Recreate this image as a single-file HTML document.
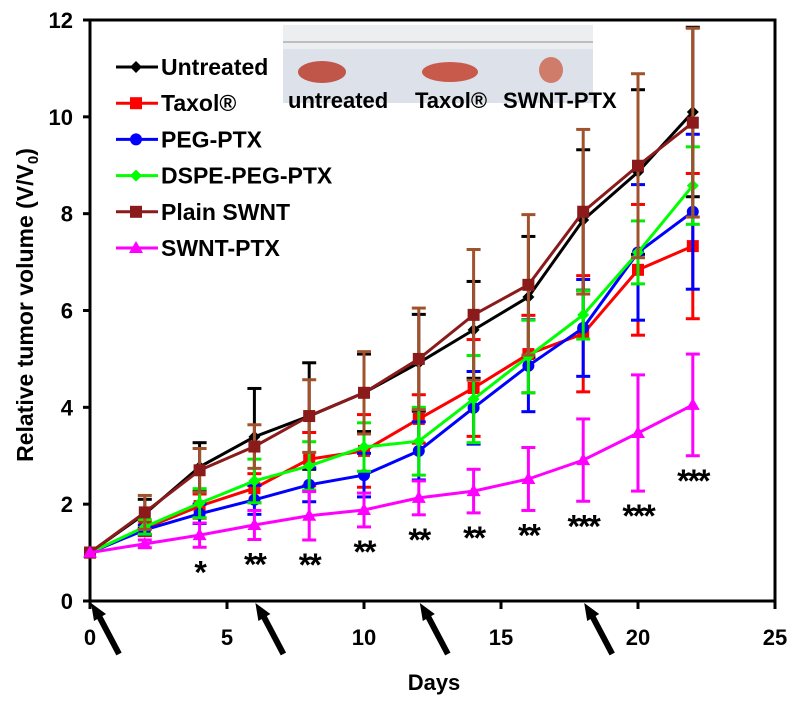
<!DOCTYPE html>
<html><head><meta charset="utf-8">
<style>
body{margin:0;background:#fff;width:800px;height:703px;overflow:hidden;font-family:"Liberation Sans",Arial,sans-serif}
svg text{font-family:"Liberation Sans",Arial,sans-serif;font-weight:bold}
</style></head>
<body>
<svg id="chart" width="800" height="703">
<g id="photo">
  <rect x="283" y="25" width="310" height="78" fill="#dde2ea"/>
  <rect x="283" y="25" width="310" height="24" fill="#eceef0"/>
  <g stroke="#8a8f99" stroke-width="1">
    <line x1="283" y1="42" x2="593" y2="42"/>
  </g>
  <ellipse cx="322" cy="72" rx="24" ry="11" fill="#c0554a"/>
  <ellipse cx="450" cy="72" rx="28" ry="10" fill="#c75a4b"/>
  <ellipse cx="551" cy="70" rx="12" ry="13" fill="#cf7c6a"/>
</g>
<g id="axes"></g>
<g id="series"></g>
<g id="legend"></g>
</svg>
<script>
const days=[0,2,4,6,8,10,12,14,16,18,20,22];
const untreated=[1,1.8,2.77,3.39,3.82,4.3,4.92,5.6,6.28,7.87,8.86,10.1];
const untreatedErr=[0,0.3,0.5,1.0,1.1,0.8,1.0,1.0,1.25,1.45,1.7,1.75];
const taxol=[1,1.5,1.96,2.33,2.93,3.1,3.76,4.4,5.1,5.52,6.84,7.33];
const taxolErr=[0,0.15,0.25,0.3,0.55,0.75,0.5,1.0,0.8,1.2,1.35,1.5];
const pegPtx=[1,1.47,1.8,2.09,2.4,2.6,3.1,3.99,4.86,5.64,7.2,8.04];
const pegPtxErr=[0,0.1,0.2,0.3,0.35,0.45,0.6,0.75,0.95,1.0,1.4,1.6];
const dspe=[1,1.53,2.02,2.48,2.79,3.18,3.3,4.17,5.05,5.91,7.2,8.58];
const dspeErr=[0,0.15,0.3,0.45,0.5,0.5,0.7,0.9,0.75,0.5,0.65,0.8];
const plain=[1,1.83,2.7,3.19,3.82,4.3,5.0,5.91,6.53,8.04,8.99,9.88];
const plainErr=[0,0.35,0.45,0.45,0.75,0.85,1.05,1.35,1.45,1.7,1.9,1.95];
const swnt=[1,1.18,1.36,1.57,1.76,1.88,2.13,2.27,2.52,2.91,3.47,4.05];
const swntErr=[0,0.08,0.25,0.3,0.5,0.35,0.35,0.45,0.65,0.85,1.2,1.05];
const stars=["","","*","**","**","**","**","**","**","***","***","***"];
const xTicks=[0,5,10,15,20,25];
const yTicks=[0,2,4,6,8,10,12];
const arrowDays=[0,6,12,18];

const NS="http://www.w3.org/2000/svg";
const X0=90,XW=685,Y0=601,YH=581;
const xs=d=>X0+d/25*XW, ys=v=>Y0-v/12*YH;
function mk(tag,attrs,parent){const e=document.createElementNS(NS,tag);for(const k in attrs)e.setAttribute(k,attrs[k]);parent.appendChild(e);return e;}
const axes=document.getElementById('axes'),ser=document.getElementById('series'),leg=document.getElementById('legend');

let f=mk('rect',{x:X0,y:ys(12),width:XW,height:YH,fill:'none',stroke:'#000','stroke-width':3},axes);


xTicks.forEach(t=>{
  let l=mk('line',{x1:xs(t),x2:xs(t),y1:Y0,y2:Y0+8,stroke:'#000','stroke-width':3},axes);
  
  
  let tx=mk('text',{x:xs(t),y:Y0+44,'text-anchor':'middle','font-size':22},axes);tx.textContent=t;
  
  
});
yTicks.forEach(t=>{
  let l=mk('line',{x1:X0-7,x2:X0,y1:ys(t),y2:ys(t),stroke:'#000','stroke-width':3},axes);
  
  
  let tx=mk('text',{x:73,y:ys(t)+8,'text-anchor':'end','font-size':22},axes);tx.textContent=t;
  
  
});
let xt=mk('text',{x:434,y:690,'text-anchor':'middle','font-size':22},axes);xt.textContent='Days';


let yt=mk('text',{x:0,y:0,'text-anchor':'middle','font-size':23,transform:'translate(33,305) rotate(-90)'},axes);
yt.innerHTML='Relative tumor volume (V/V<tspan font-size="15" dy="5">0</tspan><tspan dy="-5">)</tspan>';


arrowDays.forEach(d=>{
  const x=xs(d)+1;
  let g=mk('g',{},axes);
  
  
  mk('line',{x1:x+28,y1:654,x2:x+8,y2:616,stroke:'#000','stroke-width':6},g);
  mk('polygon',{points:`${x},${603} ${x+15},${614} ${x+3},${621}`,fill:'#000'},g);
});
[['untreated',288],['Taxol®',415],['SWNT-PTX',503]].forEach(([s,x])=>{
  let t=mk('text',{x:x,y:108,'font-size':22},axes);t.textContent=s;
  
  
});

function marker(g,shape,x,y,c){
  if(shape==='diamond')mk('polygon',{points:`${x},${y-6} ${x+6},${y} ${x},${y+6} ${x-6},${y}`,fill:c},g);
  else if(shape==='square')mk('rect',{x:x-6,y:y-6,width:12,height:12,fill:c},g);
  else if(shape==='circle')mk('circle',{cx:x,cy:y,r:6,fill:c},g);
  else mk('polygon',{points:`${x},${y-7} ${x+7},${y+5} ${x-7},${y+5}`,fill:c},g);
}
const S=[
 ['Untreated',untreated,untreatedErr,'#000','#000','diamond','untreated'],
 ['Taxol®',taxol,taxolErr,'#ff0000','#ff0000','square','taxol'],
 ['PEG-PTX',pegPtx,pegPtxErr,'#0000ff','#0000ff','circle','peg-ptx'],
 ['DSPE-PEG-PTX',dspe,dspeErr,'#00ff00','#00ee00','diamond','dspe-peg-ptx'],
 ['Plain SWNT',plain,plainErr,'#8b1a1a','#a0522d','square','plain-swnt'],
 ['SWNT-PTX',swnt,swntErr,'#ff00ff','#ff00ff','triangle','swnt-ptx']
];
S.forEach(([name,vals,errs,c,ec,shape,key])=>{
  let g=mk('g',{},ser);
  
  
  vals.forEach((v,i)=>{ if(!errs[i])return;
    const x=xs(days[i]);
    let eb=mk('g',{stroke:ec,'stroke-width':3},g);
    
    
    mk('line',{x1:x,x2:x,y1:ys(v+errs[i]),y2:ys(v-errs[i])},eb);
    mk('line',{x1:x-7,x2:x+7,y1:ys(v+errs[i]),y2:ys(v+errs[i])},eb);
    mk('line',{x1:x-7,x2:x+7,y1:ys(v-errs[i]),y2:ys(v-errs[i])},eb);
  });
  let p=mk('polyline',{points:vals.map((v,i)=>xs(days[i])+','+ys(v)).join(' '),fill:'none',stroke:c,'stroke-width':3},g);
  
  
  vals.forEach((v,i)=>marker(g,shape,xs(days[i]),ys(v),c));
});
S.forEach(([name,vals,errs,c,ec,shape,key],k)=>{
  const y=67+k*36.2;
  let g=mk('g',{},leg);
  
  
  mk('line',{x1:116,x2:158,y1:y,y2:y,stroke:c,'stroke-width':3},g);
  marker(g,shape,136,y,c);
  let t=mk('text',{x:161,y:y+8,'font-size':23},g);t.textContent=name;
});
stars.forEach((s,i)=>{ if(!s)return;
  let t=mk('text',{x:xs(days[i]),y:ys(swnt[i]-swntErr[i])+36,'text-anchor':'middle','font-size':32,'font-weight':'normal','letter-spacing':'-2'},ser);
  t.textContent=s;
  
  
});
</script>
</body></html>
